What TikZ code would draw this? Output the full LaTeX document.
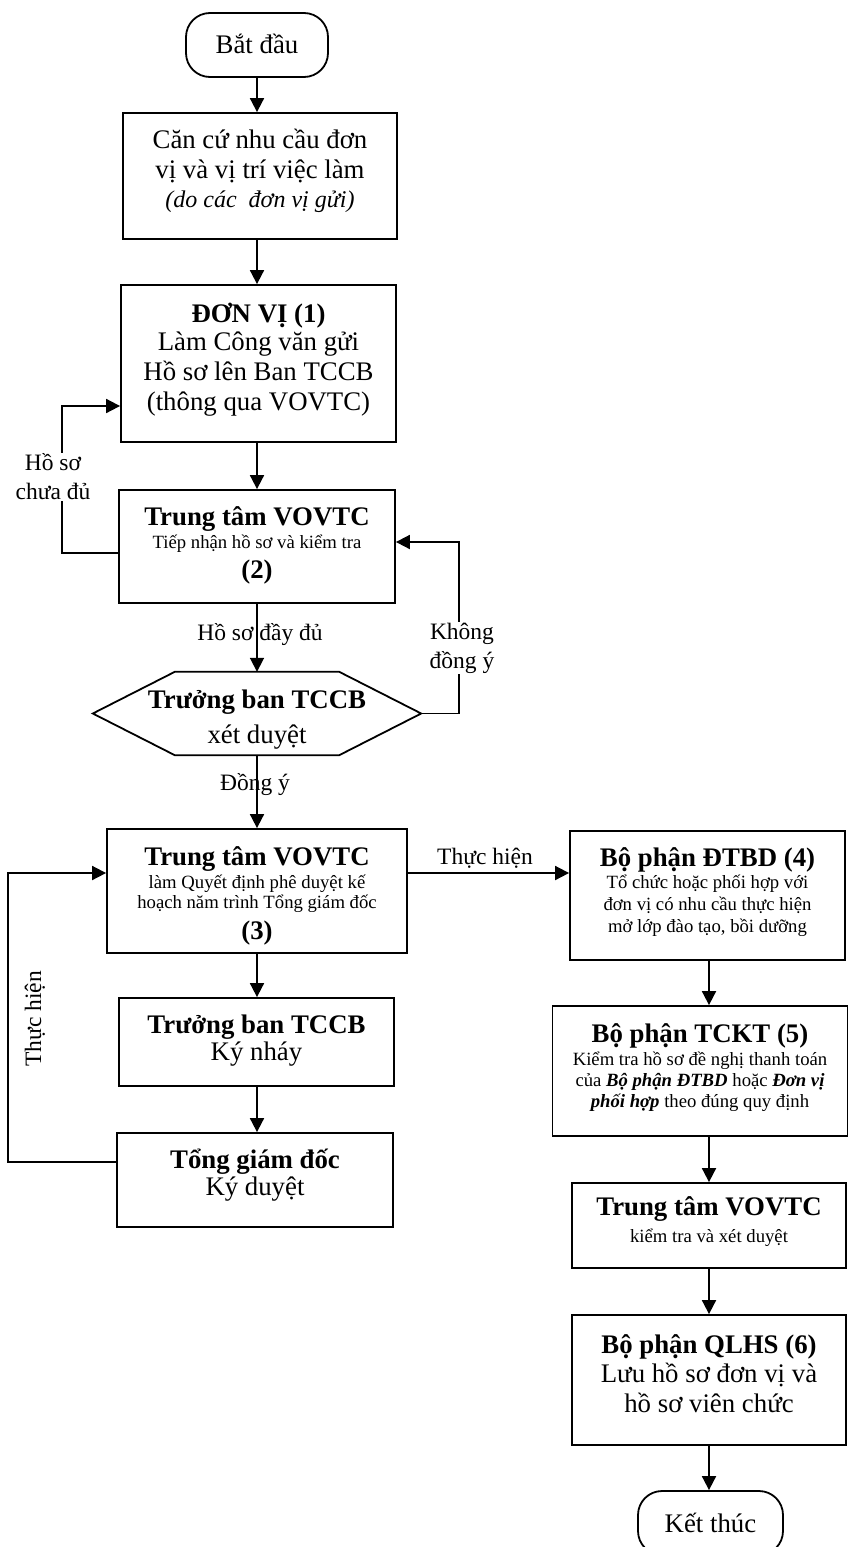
\documentclass[tikz,border=0pt]{standalone}
\usepackage{fontspec}
\setmainfont{Liberation Serif}
\usetikzlibrary{arrows.meta,calc}
\lineskiplimit=-100pt
\newcommand\TLine[3]{{\fontsize{#1}{#2}\selectfont\spaceskip=0pt\xspaceskip=0pt
  \leftskip=0pt plus 1fil\rightskip=0pt plus 1fil\parfillskip=0pt\relax #3\par}}
\newcommand\Ts[1]{\rule{0pt}{#1pt}}
\newcommand\Bs[1]{\rule[-#1pt]{0pt}{#1pt}}
\newcommand\bi[1]{\textbf{\textit{#1}}}
\def\BF{26.8}
\def\SF{18.7}
\tikzset{
  box/.style={draw, line width=1.8pt, rectangle, inner sep=0pt, align=center,
    execute at begin node={\lineskiplimit=-100pt\relax}},
  term/.style={box, rounded corners=24pt},
  hexn/.style={rectangle, inner sep=0pt, align=center,
    execute at begin node={\lineskiplimit=-100pt\relax}},
  arr/.style={line width=1.8pt, -{Triangle[length=14pt,width=14pt]}},
  conn/.style={line width=1.8pt},
  lab/.style={font=\fontsize{23.5}{29}\selectfont, align=center, inner sep=1pt},
}
\begin{document}
\begin{tikzpicture}[x=1pt,y=-1pt]
\useasboundingbox (0,0) rectangle (849,1547);

% left column
\node[term, text width=142pt] (st) at (257,45) {\TLine{\BF}{30}{\Ts{40}Bắt đầu\Bs{24}}};

\node[box, text width=274pt] (b1) at (260,176) {%
\TLine{\BF}{30}{\Ts{35}Căn cứ nhu cầu đơn}%
\TLine{\BF}{30}{vị và vị trí việc làm}%
\TLine{24}{29}{\itshape (do các \ đơn vị gửi)\Bs{32}}};

\node[box, text width=275pt] (b2) at (258.5,363.5) {%
\TLine{\BF}{30}{\bfseries\Ts{37}ĐƠN VỊ (1)}%
\TLine{\BF}{28}{Làm Công văn gửi}%
\TLine{\BF}{30}{Hồ sơ lên Ban TCCB}%
\TLine{\BF}{30}{(thông qua VOVTC)\Bs{32}}};

\node[box, text width=276pt] (b3) at (257,546.5) {%
\TLine{\BF}{30}{\bfseries\Ts{35}Trung tâm VOVTC}%
\TLine{\SF}{23}{Tiếp nhận hồ sơ và kiểm tra}%
\TLine{\BF}{30}{\bfseries (2)\Bs{25}}};

\node[hexn, text width=328pt] (hx) at (257,713.5) {%
\TLine{\BF}{30}{\bfseries\Ts{36}Trưởng ban TCCB}%
\TLine{\BF}{35}{xét duyệt\Bs{12}}};
\draw[conn] (hx.west) -- ([xshift=82pt]hx.north west) -- ([xshift=-82pt]hx.north east)
  -- (hx.east) -- ([xshift=-82pt]hx.south east) -- ([xshift=82pt]hx.south west) -- cycle;

\node[box, text width=300pt] (b4) at (257,891) {%
\TLine{\BF}{30}{\bfseries\Ts{36}Trung tâm VOVTC}%
\TLine{\SF}{23}{làm Quyết định phê duyệt kế}%
\TLine{\SF}{20}{hoạch năm trình Tổng giám đốc}%
\TLine{\BF}{31}{\bfseries (3)\Bs{14}}};

\node[box, text width=275pt] (b5) at (256.5,1042) {%
\TLine{\BF}{30}{\bfseries\Ts{35}Trưởng ban TCCB}%
\TLine{\BF}{27}{Ký nháy\Bs{26}}};

\node[box, text width=276pt] (b6) at (255,1180) {%
\TLine{\BF}{30}{\bfseries\Ts{35}Tổng giám đốc}%
\TLine{\BF}{27}{Ký duyệt\Bs{32}}};

% right column
\node[box, text width=275pt] (b7) at (707.5,895.5) {%
\TLine{\BF}{30}{\bfseries\Ts{35}Bộ phận ĐTBD (4)}%
\TLine{\SF}{22}{Tổ chức hoặc phối hợp với}%
\TLine{\SF}{22}{đơn vị có nhu cầu thực hiện}%
\TLine{\SF}{22}{mở lớp đào tạo, bồi dưỡng\Bs{28}}};

\node[box, text width=295pt] (b8) at (700,1071) {%
\TLine{\BF}{30}{\bfseries\Ts{36}Bộ phận TCKT (5)}%
\TLine{\SF}{23}{Kiểm tra hồ sơ đề nghị thanh toán}%
\TLine{\SF}{21}{của \bi{Bộ phận ĐTBD} hoặc \bi{Đơn vị}}%
\TLine{\SF}{21}{\bi{phối hợp} theo đúng quy định\Bs{29}}};

\node[box, text width=274pt] (b9) at (709,1225.5) {%
\TLine{\BF}{30}{\bfseries\Ts{32}Trung tâm VOVTC}%
\TLine{\SF}{27}{kiểm tra và xét duyệt\Bs{26}}};

\node[box, text width=274pt] (b10) at (709,1380) {%
\TLine{\BF}{30}{\bfseries\Ts{38}Bộ phận QLHS (6)}%
\TLine{\BF}{29}{Lưu hồ sơ đơn vị và}%
\TLine{\BF}{30}{hồ sơ viên chức\Bs{33}}};

\node[term, text width=145pt] (en) at (710.5,1523) {\TLine{\BF}{30}{\Ts{41}Kết thúc\Bs{23}}};

% main flow
\draw[arr] (st.south) -- (b1.north -| st.south);
\draw[arr] (b1.south -| st) -- (b2.north -| st);
\draw[arr] (b2.south -| st) -- (b3.north -| st);
\draw[arr] (b3.south -| st) -- (hx.north -| st);
\draw[arr] (hx.south -| st) -- (b4.north -| st);
\draw[arr] (b4.south -| st) -- (b5.north -| st);
\draw[arr] (b5.south -| st) -- (b6.north -| st);

\draw[arr] (b7.south -| b9) -- (b8.north -| b9);
\draw[arr] (b8.south -| b9) -- (b9.north);
\draw[arr] (b9.south) -- (b10.north);
\draw[arr] (b10.south) -- (en.north -| b10);

% loops
\draw[arr] ([yshift=-6.5pt]b3.west) -- ++(-56,0) |- ([yshift=-42.5pt]b2.west);
\node[lab, fill=white] (l1) at (53,477) {Hồ sơ\\chưa đủ};

\draw[arr] (hx.east) -- ++(38,0) |- ([yshift=4.5pt]b3.east);
\node[lab, fill=white] (l2) at (462,648) {Không\\đồng ý};

\node[lab] (l3) at (260,635) {Hồ sơ đầy đủ};
\node[lab] (l4) at (255,785) {Đồng ý};

\draw[arr] ([yshift=18pt]b6.west) -- ++(-108,0) |- ([yshift=18pt]b4.west);
\node[lab, rotate=90] (l5) at (35,1019) {Thực hiện};

\draw[arr] ([yshift=18pt]b4.east) -- ([yshift=18pt]b4.east -| b7.west);
\node[lab] (l6) at (485,858) {Thực hiện};
\end{tikzpicture}
\end{document}
